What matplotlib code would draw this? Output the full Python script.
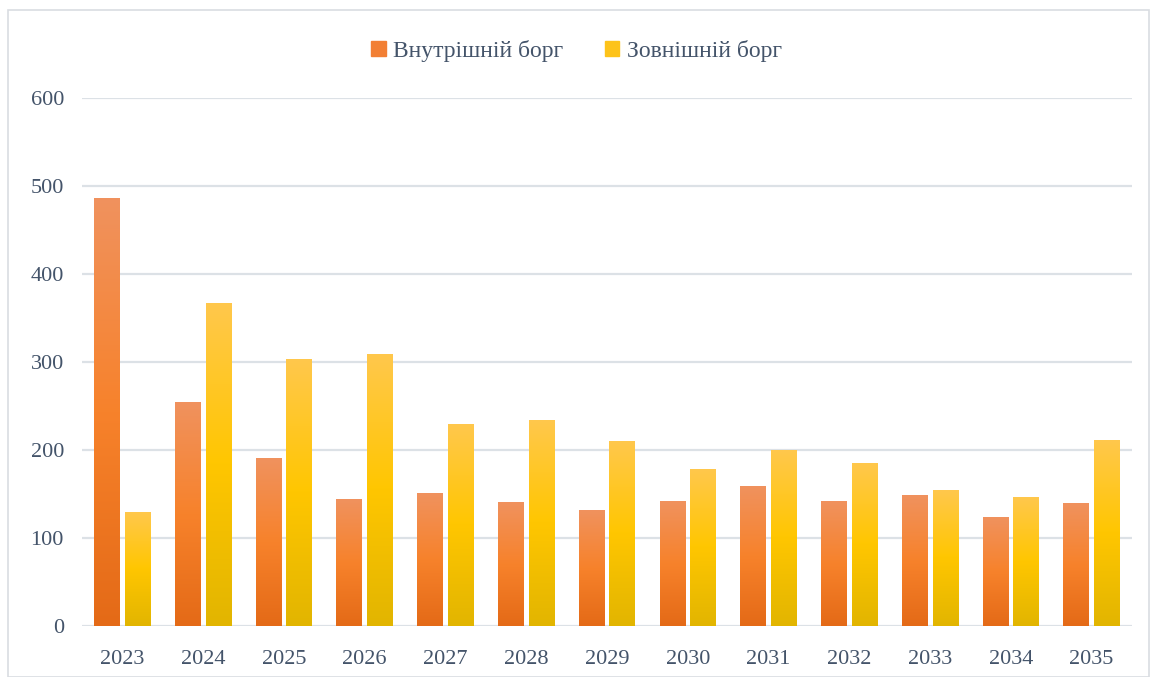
import matplotlib
matplotlib.use('Agg')
import matplotlib.pyplot as plt
import matplotlib.patches as mpatches
from matplotlib.colors import LinearSegmentedColormap
import numpy as np

plt.rcParams['font.family'] = ['Liberation Serif', 'DejaVu Serif']

years = ['2023', '2024', '2025', '2026', '2027', '2028', '2029',
         '2030', '2031', '2032', '2033', '2034', '2035']
domestic = [486, 254, 190, 144, 151, 140, 131, 141, 159, 141, 148, 123, 139]
external = [129, 366, 303, 308, 229, 234, 210, 178, 199, 185, 154, 146, 211]
series_labels = ['Внутрішній борг', 'Зовнішній борг']

TEXT = '#44546A'
orange_cmap = LinearSegmentedColormap.from_list('o', ['#E46A17', '#F7822B', '#F0925E'])
yellow_cmap = LinearSegmentedColormap.from_list('y', ['#E2B500', '#FFC600', '#FFC84C'])


def gradient_bar(ax, x0, width, height, cmap):
    grad = np.linspace(0, 1, 256).reshape(-1, 1)
    ax.imshow(grad, cmap=cmap, origin='lower', aspect='auto',
              extent=[x0, x0 + width, 0, height], zorder=3, interpolation='bicubic')


def main():
    px = 1 / 100
    fig = plt.figure(figsize=(1153 * px, 677 * px), dpi=100)
    ax = fig.add_axes([82 / 1153, 1 - 626 / 677, 1050 / 1153, 528 / 677])

    width = 0.32
    gap = 0.06
    for i, (d, e) in enumerate(zip(domestic, external)):
        gradient_bar(ax, i - gap / 2 - width, width, d, orange_cmap)
        gradient_bar(ax, i + gap / 2, width, e, yellow_cmap)

    ax.set_xlim(-0.5, len(years) - 0.5)
    ax.set_ylim(0, 600)
    ax.set_yticks(range(0, 601, 100))
    ax.set_xticks(range(len(years)))
    ax.set_xticklabels(years)
    ax.grid(axis='y', color='#DCE1E6', linewidth=1.6, zorder=0)
    ax.set_axisbelow(True)
    for s in ax.spines.values():
        s.set_visible(False)
    ax.tick_params(axis='both', length=0, labelsize=16, colors=TEXT)
    ax.tick_params(axis='x', pad=17)
    ax.tick_params(axis='y', pad=13)

    handles = [mpatches.Patch(color='#F27F34'), mpatches.Patch(color='#FDC31A')]
    fig.legend(handles, series_labels, loc='center', bbox_to_anchor=(0.5, 1 - 51 / 677),
               ncol=2, frameon=False, prop={'size': 17}, labelcolor=TEXT,
               handlelength=0.6, handleheight=0.6, handletextpad=0.3, columnspacing=1.8)

    fig.patches.append(mpatches.Rectangle((8 / 1153, 0), 1 - 12 / 1153, 1 - 10 / 677,
                                          transform=fig.transFigure, fill=False,
                                          edgecolor='#D9DDE2', linewidth=1.2))

    fig.savefig('out.png', dpi=100)


if __name__ == '__main__':
    main()
